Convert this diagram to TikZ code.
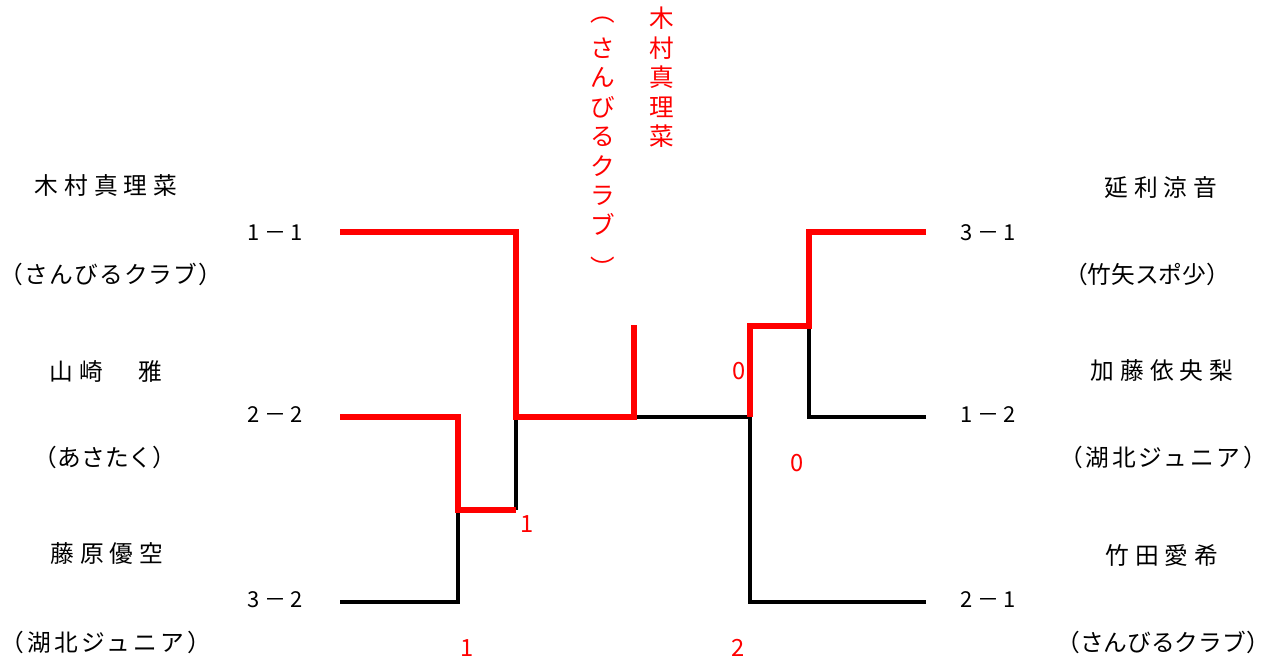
\documentclass[tikz,border=0pt]{standalone}
\usepackage{fontspec}
\setmainfont{Noto Sans CJK JP}
\usepackage{tikz}
\tikzset{
  lbl/.style={inner sep=0pt,text height=0.88em,text depth=0.12em,
    font=\fontsize{13.5pt}{15pt}\selectfont},
  pname/.style={lbl,font=\fontsize{13.5pt}{15pt}\selectfont\addfontfeature{LetterSpace=25}},
  pclub/.style={lbl,font=\fontsize{13.5pt}{15pt}\selectfont\addfontfeature{LetterSpace=#1}},
  pclub/.default=0,
  score/.style={lbl,font=\fontsize{12.5pt}{14pt}\selectfont\addfontfeature{LetterSpace=22}},
  rscore/.style={lbl,text=red},
  vchar/.style={lbl,text=red,font=\fontsize{14pt}{15pt}\selectfont},
  lose/.style={line width=2pt,line join=miter},
  win/.style={line width=3.4pt,red,line join=miter},
}
\begin{document}
\begin{tikzpicture}[x=0.02cm,y=-0.02cm]
  \useasboundingbox (0,0) rectangle (1270,668);
  \node[pname] (n1) at (106,188) {木村真理菜};
  \node[pclub=5] (c1) at (111,277) {（さんびるクラブ）};
  \node[pname] (n2) at (106,374) {山崎　雅};
  \node[pclub] (c2) at (105,460) {（あさたく）};
  \node[pname] (n3) at (107,556) {藤原優空};
  \node[pclub=14] (c3) at (106,645) {（湖北ジュニア）};
  \node[score] (s1) at (275,234) {1－1};
  \node[score] (s2) at (275,416) {2－2};
  \node[score] (s3) at (275,601) {3－2};
  \node[pname] (n4) at (1161,190) {延利涼音};
  \node[pclub] (c4) at (1147,277) {（竹矢スポ少）};
  \node[pname] (n5) at (1162,373) {加藤依央梨};
  \node[pclub=12] (c5) at (1163,460) {（湖北ジュニア）};
  \node[pname] (n6) at (1162,558) {竹田愛希};
  \node[pclub] (c6) at (1163,645) {（さんびるクラブ）};
  \node[score] (s4) at (988,234) {3－1};
  \node[score] (s5) at (988,416) {1－2};
  \node[score] (s6) at (988,601) {2－1};
  \foreach \c [count=\i] in {木,村,真,理,菜}
    \node[vchar] (v\i) at (662,{21+29.5*(\i-1)}) {\c};
  \foreach \c/\y [count=\i] in {︵/15,さ/51,ん/80,び/110,る/139,ク/169,ラ/198,ブ/228,︶/271}
    \node[vchar] (w\i) at (603,\y) {\c};
  \node[rscore] (r1) at (527,526) {1};
  \node[rscore] (r2) at (467,650) {1};
  \node[rscore] (r3) at (738,650) {2};
  \node[rscore] (r4) at (739,373) {0};
  \node[rscore] (r5) at (797,465) {0};
  \coordinate (a1) at (340,232);
  \coordinate (a2) at (340,417);
  \coordinate (a3) at (340,602);
  \coordinate (b1) at (926,232);
  \coordinate (b2) at (926,417);
  \coordinate (b3) at (926,602);
  \coordinate (k1) at (458,510);
  \coordinate (k2) at (516,510);
  \coordinate (k3) at (516,417);
  \coordinate (k4) at (634,417);
  \coordinate (k5) at (634,325);
  \coordinate (k6) at (750,417);
  \coordinate (k7) at (809,326);
  \coordinate (k8) at (750,326);
  \draw[lose] (a3) -| (k1);
  \draw[lose] (k2) -- (k3);
  \draw[lose] (k4) -- (k6);
  \draw[lose] (b2) -| (k7);
  \draw[lose] (b3) -| (k6);
  \draw[win] (a1) -| (k3) -- (k4) -- (k5);
  \draw[win] (a2) -| (k1) -- (k2);
  \draw[win] (b1) -| (k7) -- (k8) -- (k6);
\end{tikzpicture}
\end{document}
